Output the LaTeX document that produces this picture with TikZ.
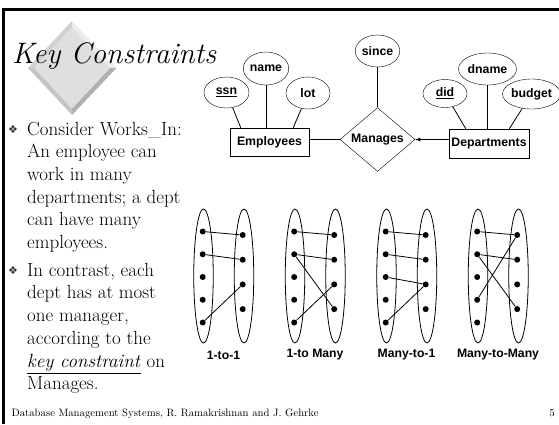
\documentclass[tikz,border=0pt]{standalone}
\usepackage{amsmath}
\usepackage{fontspec}
\usepackage{tikz}
\usetikzlibrary{positioning,shapes.geometric}

\newfontfamily\erfont{Liberation Sans}
\newfontfamily\dingfont{DejaVu Sans}

\begin{document}
\begin{tikzpicture}[x=1pt, y=-1pt]
        \tikzstyle{attr}=[draw, ellipse, inner sep=0pt, font=\erfont\bfseries\fontsize{12.3}{14}\selectfont]
        \tikzstyle{entity}=[draw, rectangle, inner sep=0pt, minimum height=28pt, font=\erfont\bfseries\fontsize{12.3}{14}\selectfont]
        \tikzstyle{rel}=[draw, diamond, inner sep=0pt, minimum width=75pt, minimum height=55pt, font=\erfont\bfseries\fontsize{12.3}{14}\selectfont]
        \tikzstyle{conn}=[line width=0.8pt]
        \tikzstyle{elem}=[fill, circle, inner sep=0pt, minimum size=6pt]
        \tikzstyle{setshape}=[draw, ellipse, line width=0.8pt, minimum width=19.5pt, minimum height=134pt, inner sep=0pt]
        \tikzstyle{maplabel}=[inner sep=0pt, font=\erfont\bfseries\fontsize{12.2}{14}\selectfont]
        \tikzstyle{bodytext}=[anchor=base west, align=left, inner sep=0pt, font=\fontsize{19}{22.7}\selectfont]
        \tikzstyle{bullet}=[inner sep=0pt, text=black!80, font=\dingfont\fontsize{11}{11}\selectfont]

        \useasboundingbox (0,0) rectangle (559,424);

        \draw[line width=2.6pt] (3.3,424) -- (3.3,9.7) -- (559,9.7);

        \fill[gray!37] (28,68) -- (72,21) -- (72,27.5) -- (34.5,68) -- cycle;
        \fill[gray!15] (72,21) -- (116.5,68) -- (110,68) -- (72,27.5) -- cycle;
        \fill[gray!62] (116.5,68) -- (72,115) -- (72,108.5) -- (110,68) -- cycle;
        \fill[gray!46] (72,115) -- (28,68) -- (34.5,68) -- (72,108.5) -- cycle;
        \fill[gray!25] (72,27.5) -- (110,68) -- (72,108.5) -- (34.5,68) -- cycle;

        \node (title) [anchor=base west, inner sep=0pt, font=\fontsize{29.6}{34}\selectfont\itshape] at (12,63) {Key Constraints};

        \node (bul1) [bullet] at (13,129.5) {❖};
        \node (item1) [bodytext] at (27,248.5) {Consider Works\_In:\\An employee can\\work in many\\departments; a dept\\can have many\\employees.};
        \node (bul2) [bullet] at (13,270.5) {❖};
        \node (item2) [bodytext] at (27,389.7) {In contrast, each\\dept has at most\\one manager,\\according to the\\\underline{\textit{key constraint}} on\\Manages.};

        \node (footer) [anchor=base west, inner sep=0pt, font=\fontsize{10.7}{13}\selectfont] at (11.5,416) {Database Management Systems, R. Ramakrishnan and J. Gehrke};
        \node (pagenum) [anchor=base east, inner sep=0pt, font=\fontsize{10.7}{13}\selectfont] at (555,416) {5};

        \node (ssn) [attr, minimum width=45pt, minimum height=31pt] at (226.5,92.5) {\underline{ssn}};
        \node (name) [attr, minimum width=44pt, minimum height=33pt] at (266,68.5) {name};
        \node (lot) [attr, minimum width=44pt, minimum height=32pt] at (308,93) {lot};
        \node (emp) [entity, minimum width=79pt] at (269.5,142) {Employees};
        \node (rel) [rel] at (377.5,139.5) {Manages};
        \node (since) [attr, minimum width=43pt, minimum height=32pt] at (377.5,51) {since};
        \node (dept) [entity, minimum width=80pt, minimum height=29pt] at (489,143.5) {Departments};
        \node (did) [attr, minimum width=44pt, minimum height=28pt] at (445,93.5) {\underline{did}};
        \node (dname) [attr, minimum width=58pt, minimum height=32pt] at (487.5,69) {dname};
        \node (budget) [attr, minimum width=53pt, minimum height=30pt] at (531.5,94) {budget};

        \draw[conn] (ssn) -- ([xshift=11pt]emp.north west);
        \draw[conn] (name) -- (name |- emp.north);
        \draw[conn] (lot) -- ([xshift=-16pt]emp.north east);
        \draw[conn] (since) -- (rel.north);
        \draw[conn] (emp.east |- rel.west) -- (rel.west);
        \draw[conn, -latex] (dept.west |- rel.east) -- (rel.east);
        \draw[conn] (did) -- ([xshift=17pt]dept.north west);
        \draw[conn] (dname) -- (dname |- dept.north);
        \draw[conn] (budget) -- ([xshift=-20pt]dept.north east);

        \foreach \g/\x/\txt in {a/203.5/1-to-1, b/295/1-to Many, c/386.5/Many-to-1, d/478/Many-to-Many} {
            \node (\g-left) [setshape] at (\x,276) {};
            \node (\g-right) [setshape] at (\x+40.5,276) {};
            \foreach \i in {1,...,5}
                \node (\g-l\i) [elem] at (\x-0.8,{231.5+22.75*(\i-1)}) {};
            \foreach \i in {1,...,4}
                \node (\g-r\i) [elem] at (\x+39.2,{235+24.7*(\i-1)}) {};
            \node (\g-lab) [maplabel] at (\x+20,355) {\txt};
        }

        \draw[conn] (a-l1) -- (a-r1) (a-l2) -- (a-r2) (a-l5) -- (a-r3);
        \draw[conn] (b-l1) -- (b-r1) (b-l2) -- (b-r2) (b-l2) -- (b-r4) (b-l5) -- (b-r3);
        \draw[conn] (c-l1) -- (c-r1) (c-l2) -- (c-r2) (c-l3) -- (c-r3) (c-l5) -- (c-r3);
        \draw[conn] (d-l1) -- (d-r1) (d-l2) -- (d-r2) (d-l2) -- (d-r4) (d-l4) -- (d-r1);
\end{tikzpicture}
\end{document}
